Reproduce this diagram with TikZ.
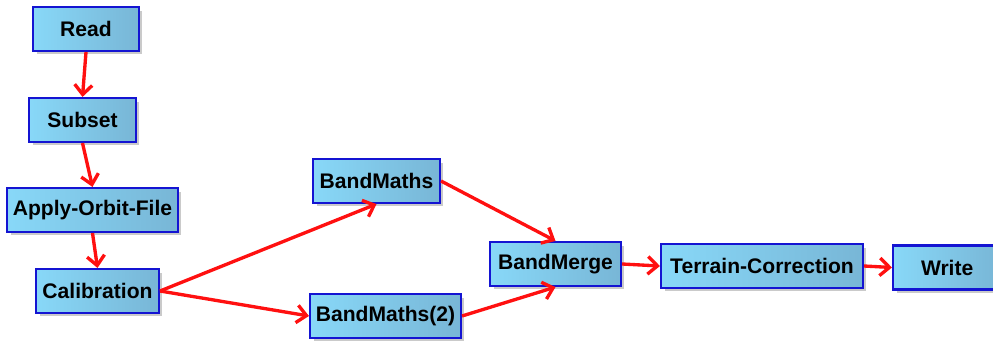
\documentclass[tikz,border=0pt]{standalone}
\usepackage{fontspec}
\setmainfont{Liberation Sans}
\usepackage{tikz}
\usetikzlibrary{arrows.meta,shadows,positioning}
\definecolor{boxleft}{HTML}{88D8F8}
\definecolor{boxright}{HTML}{78B6D6}
\definecolor{boxedge}{HTML}{1414D2}
\definecolor{flowred}{HTML}{FF1010}
\tikzset{
  opbox/.style={
    rectangle,
    left color=boxleft, right color=boxright,
    draw=boxedge, line width=1.2pt,
    minimum height=0.88cm,
    inner sep=0pt,
    font=\fontsize{12}{14}\selectfont\bfseries,
    drop shadow={shadow xshift=0.07cm, shadow yshift=-0.07cm, opacity=0.35, fill=black!60}},
  flow/.style={draw=flowred, line width=1.9pt, -{Straight Barb[length=5.5pt,width=10pt,line width=1.9pt]}},
}

\begin{document}
\begin{tikzpicture}[x=0.02cm, y=-0.02cm]
    \clip (0,0) rectangle (993,344);

    % operators
    \node[opbox, minimum width=2.12cm] (read) at (86,29) {Read};
    \node[opbox, minimum width=2.14cm] (subset) at (82.5,120) {Subset};
    \node[opbox, minimum width=3.42cm] (orbit) at (92.5,210) {Apply-Orbit-File};
    \node[opbox, minimum width=2.46cm] (calib) at (97.5,291) {Calibration};
    \node[opbox, minimum width=2.54cm] (bmath) at (376.5,181) {BandMaths};
    \node[opbox, minimum width=3.02cm] (bmathb) at (385.5,316) {BandMaths(2)};
    \node[opbox, minimum width=2.62cm] (bmerge) at (555.5,264) {BandMerge};
    \node[opbox, minimum width=4.04cm] (terrain) at (762,266) {Terrain-Correction};
    \node[opbox, minimum width=2.12cm, text width=1.0cm, align=left] (write) at (946,267.5) {Write};

    % connections
    \draw[flow] (read.south) -- (subset.north);
    \draw[flow] (subset.south) -- (orbit.north);
    \draw[flow] (orbit.south) -- (calib.north);
    \draw[flow] (calib.east) -- (bmath.south);
    \draw[flow] (calib.east) -- (bmathb.west);
    \draw[flow] (bmath.east) -- (bmerge.north);
    \draw[flow] (bmathb.east) -- (bmerge.south);
    \draw[flow] (bmerge.east) -- (terrain.west);
    \draw[flow] (terrain.east) -- (write.west);
\end{tikzpicture}
\end{document}
